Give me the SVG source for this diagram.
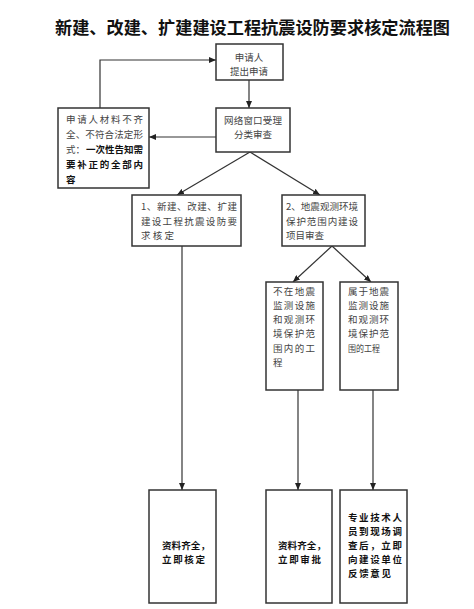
<svg xmlns="http://www.w3.org/2000/svg" width="474" height="609" viewBox="0 0 474 609">
<defs>
<marker id="arr" markerWidth="7" markerHeight="6" refX="7" refY="3" orient="auto" markerUnits="userSpaceOnUse">
<path d="M0,0 L7,3 L0,6 Z" fill="#222"/>
</marker>
<style>
.box{fill:#fff;stroke:#333;stroke-width:1.5}
.ln{fill:none;stroke:#333;stroke-width:1.2}
.t{font-family:"Noto Sans CJK SC","Noto Sans",sans-serif;font-size:9.5px;fill:#444}
.b{font-weight:bold;fill:#111}
.title{font-family:"Noto Sans CJK SC","Noto Sans",sans-serif;font-size:17px;font-weight:bold;fill:#111}
</style>
</defs>
<rect width="474" height="609" fill="#fff"/>
<text class="title" x="55" y="34" textLength="395" lengthAdjust="spacingAndGlyphs">新建、改建、扩建建设工程抗震设防要求核定流程图</text>

<g id="connectors">
<path class="ln" d="M249,80 L249,108" marker-end="url(#arr)"/>
<path class="ln" d="M100,108 L100,60 L216,60" marker-end="url(#arr)"/>
<path class="ln" d="M216,137 L149,137" marker-end="url(#arr)"/>
<path class="ln" d="M250,152 L177,195" marker-end="url(#arr)"/>
<path class="ln" d="M250,152 L320,195" marker-end="url(#arr)"/>
<path class="ln" d="M332,246 L293,282" marker-end="url(#arr)"/>
<path class="ln" d="M332,246 L371,282" marker-end="url(#arr)"/>
<path class="ln" d="M182,246 L182,490" marker-end="url(#arr)"/>
<path class="ln" d="M298,390 L298,490" marker-end="url(#arr)"/>
<path class="ln" d="M373,390 L373,490" marker-end="url(#arr)"/>
</g>

<g id="apply">
<rect class="box" x="216" y="44" width="67" height="36"/>
<text class="t" x="249" y="61" text-anchor="middle">申请人</text>
<text class="t" x="249" y="75" text-anchor="middle">提出申请</text>
</g>

<g id="window">
<rect class="box" x="216" y="108" width="74" height="44"/>
<text class="t" x="253" y="124" text-anchor="middle" textLength="58" lengthAdjust="spacing">网络窗口受理</text>
<text class="t" x="253" y="138" text-anchor="middle">分类审查</text>
</g>

<g id="incomplete">
<rect class="box" x="58" y="108" width="91" height="80"/>
<text class="t" x="66" y="123" textLength="77" lengthAdjust="spacing">申请人材料不齐</text>
<text class="t" x="66" y="138" textLength="77" lengthAdjust="spacing">全、不符合法定形</text>
<text class="t" x="66" y="153">式：</text>
<text class="t b" x="86" y="153" textLength="57" lengthAdjust="spacing">一次性告知需</text>
<text class="t b" x="66" y="168" textLength="77" lengthAdjust="spacing">要补正的全部内</text>
<text class="t b" x="66" y="183">容</text>
</g>

<g id="review1">
<rect class="box" x="132" y="195" width="109" height="51"/>
<text class="t" x="141" y="210" textLength="96" lengthAdjust="spacing">1、新建、改建、扩建</text>
<text class="t" x="141" y="225" textLength="96" lengthAdjust="spacing">建设工程抗震设防要</text>
<text class="t" x="141" y="239" textLength="33" lengthAdjust="spacing">求核定</text>
</g>

<g id="review2">
<rect class="box" x="282" y="195" width="83" height="51"/>
<text class="t" x="286" y="210" textLength="72" lengthAdjust="spacingAndGlyphs">2、地震观测环境</text>
<text class="t" x="286" y="225" textLength="72" lengthAdjust="spacing">保护范围内建设</text>
<text class="t" x="286" y="239">项目审查</text>
</g>

<g id="outside">
<rect class="box" x="266" y="282" width="57" height="108"/>
<text class="t" x="273" y="295" textLength="42" lengthAdjust="spacing">不在地震</text>
<text class="t" x="273" y="309" textLength="42" lengthAdjust="spacing">监测设施</text>
<text class="t" x="273" y="323" textLength="42" lengthAdjust="spacing">和观测环</text>
<text class="t" x="273" y="337" textLength="42" lengthAdjust="spacing">境保护范</text>
<text class="t" x="273" y="352" textLength="42" lengthAdjust="spacing">围内的工</text>
<text class="t" x="273" y="366">程</text>
</g>

<g id="inside">
<rect class="box" x="340" y="282" width="58" height="108"/>
<text class="t" x="348" y="295" textLength="41" lengthAdjust="spacing">属于地震</text>
<text class="t" x="348" y="309" textLength="41" lengthAdjust="spacing">监测设施</text>
<text class="t" x="348" y="323" textLength="41" lengthAdjust="spacing">和观测环</text>
<text class="t" x="348" y="337" textLength="41" lengthAdjust="spacing">境保护范</text>
<text class="t" x="348" y="352" textLength="32" lengthAdjust="spacingAndGlyphs">围的工程</text>
</g>

<g id="approve1">
<rect class="box" x="149" y="490" width="67" height="113"/>
<text class="t b" x="162" y="549" textLength="48" lengthAdjust="spacing">资料齐全，</text>
<text class="t b" x="162" y="563" textLength="43" lengthAdjust="spacing">立即核定</text>
</g>

<g id="approve2">
<rect class="box" x="266" y="490" width="66" height="113"/>
<text class="t b" x="278" y="549" textLength="48" lengthAdjust="spacing">资料齐全，</text>
<text class="t b" x="278" y="563" textLength="43" lengthAdjust="spacing">立即审批</text>
</g>

<g id="survey">
<rect class="box" x="340" y="490" width="67" height="113"/>
<text class="t b" x="348" y="521" textLength="54" lengthAdjust="spacing">专业技术人</text>
<text class="t b" x="348" y="535" textLength="54" lengthAdjust="spacing">员到现场调</text>
<text class="t b" x="348" y="549" textLength="54" lengthAdjust="spacing">查后，立即</text>
<text class="t b" x="348" y="563" textLength="54" lengthAdjust="spacing">向建设单位</text>
<text class="t b" x="348" y="577" textLength="43" lengthAdjust="spacing">反馈意见</text>
</g>
</svg>
